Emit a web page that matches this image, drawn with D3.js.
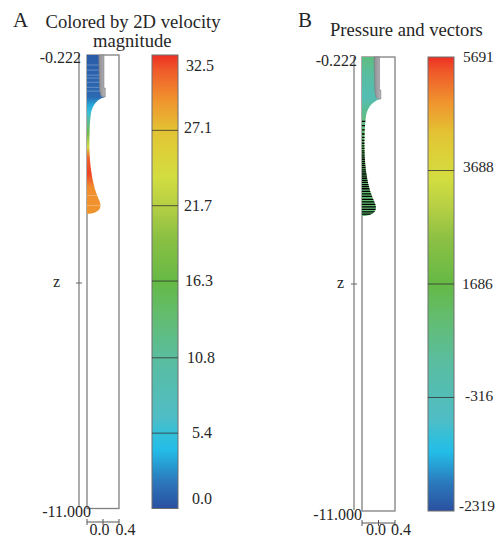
<!DOCTYPE html>
<html>
<head>
<meta charset="utf-8">
<script src="https://cdnjs.cloudflare.com/ajax/libs/d3/7.8.5/d3.min.js"></script>
<style>
body { margin: 0; background: #fff; }
svg { display: block; }
text { font-family: "Liberation Serif", serif; fill: #262626; }
</style>
</head>
<body>
<svg width="496" height="538"></svg>
<script>
// colour bar stops: fraction from bottom, colour
var stopFrac = [0, 0.06, 0.13, 0.167, 0.2, 0.333, 0.42, 0.5, 0.6, 0.667, 0.73, 0.78, 0.834, 0.9, 0.967, 1];
var stopCol = ["#2a50a0", "#2b78bc", "#23bde8", "#35bfd8", "#4fbdc6", "#5abd9e", "#62bd72", "#65b945", "#8cc043", "#b5cf44", "#d2dd40", "#dcd23a", "#e3c233", "#f0942e", "#ef5a2a", "#ee2f24"];

// jet outline (z, r)
var profZ = [-1.22, -1.27, -1.365, -1.53, -1.77, -2.01, -2.36, -2.72, -3.01, -3.2, -3.44, -3.63, -3.77, -3.89, -3.97, -4.0];
var profR = [0.05, -0.075, -0.19, -0.28, -0.32, -0.335, -0.34, -0.325, -0.29, -0.255, -0.19, -0.115, -0.065, -0.09, -0.215, -0.4];

// needle outline (z, r)
var needleZ = [-0.222, -0.222, -1.008, -1.008, -1.22, -1.2, -1.056];
var needleR = [-0.1075, 0.025, 0.025, 0.0575, 0.0575, -0.05, -0.0875];

// velocity along the jet
var velZ = [-0.222, -1.22, -1.41, -1.58, -1.77, -2.08, -2.41, -2.65, -3.03, -3.37, -3.98];
var velV = [0.6, 1.2, 3.5, 5.5, 10, 17, 24, 31, 32, 29.5, 29.2];
var streakZ = [-0.46, -0.58, -0.70, -0.77, -0.87, -0.99, -1.08, -3.56, -3.8];

// pressure along the jet, and vector rows
var presZ = [-0.222, -0.7, -1.2, -1.6, -2.2, -3.98];
var presV = [800, 200, -200, 700, 1200, 1000];
var vecZ = [-1.75, -1.85, -1.95, -2.05, -2.13, -2.2, -2.27, -2.33, -2.39, -2.45, -2.5, -2.55, -2.6, -2.65, -2.7, -2.75, -2.8, -2.85, -2.9, -2.95, -3.0, -3.05, -3.1, -3.15, -3.2, -3.25, -3.3, -3.35, -3.41, -3.47, -3.53, -3.6, -3.66, -3.72, -3.78, -3.84, -3.9, -3.95];

var zDomain = [-0.222, -11];
var rDomain = [-0.4, 0.4];
var barA = [32.5, 27.1, 21.7, 16.3, 10.8, 5.4, 0.0];
var barB = [5691, 3688, 1686, -316, -2319];

var titles = ["A", "Colored by 2D velocity", "magnitude", "B", "Pressure and vectors"];

var svg = d3.select("svg");
var defs = svg.append("defs");

var colorAt = d3.scaleLinear().domain(stopFrac).range(stopCol).interpolate(d3.interpolateRgb);

function gradient(id, y0, y1, offs, cols) {
    var g = defs.append("linearGradient").attr("id", id)
        .attr("gradientUnits", "userSpaceOnUse")
        .attr("x1", 0).attr("x2", 0).attr("y1", y0).attr("y2", y1);
    g.selectAll("stop").data(offs).join("stop")
        .attr("offset", d => d)
        .attr("stop-color", (d, i) => cols[i]);
}

function panel(o) {
    var g = svg.append("g");
    var x = d3.scaleLinear().domain(rDomain).range([o.left, o.right]);
    var y = d3.scaleLinear().domain(zDomain).range([o.top, o.bottom]);
    var col = d3.scaleLinear().domain(o.dom).range([o.bottom, o.top]);
    var frac = v => (o.bottom - col(v)) / (o.bottom - o.top);

    // box goes under the jet
    g.append("rect").attr("x", o.left).attr("y", o.top).attr("width", o.right - o.left).attr("height", o.bottom - o.top)
        .attr("fill", "none").attr("stroke", "#808080").attr("stroke-width", 1.3);

    // jet fill, its top edge stops behind the needle
    var curve = profZ.map((z, i) => [x(profR[i]), y(z)]);
    var outline = "M" + x(rDomain[0]) + "," + y(zDomain[0]) + "L" + x(needleR[5]) + "," + y(zDomain[0])
        + "L" + x(needleR[5]) + "," + y(needleZ[5])
        + d3.line().curve(d3.curveCatmullRom)(curve).replace("M", "L") + "Z";

    var y0 = y(o.valZ[0]), y1 = y(o.valZ[o.valZ.length - 1]);
    gradient(o.id + "jet", y0, y1, o.valZ.map(z => (y(z) - y0) / (y1 - y0)), o.valV.map(v => colorAt(frac(v))));
    defs.append("clipPath").attr("id", o.id + "clip").append("path").attr("d", outline);
    g.append("path").attr("d", outline).attr("fill", "url(#" + o.id + "jet)");

    // streaks or vectors inside the jet
    g.append("g").attr("clip-path", "url(#" + o.id + "clip)")
        .selectAll("line").data(o.rowZ).join("line")
        .attr("x1", x(rDomain[0])).attr("x2", x(rDomain[1]))
        .attr("y1", d => y(d)).attr("y2", d => y(d))
        .attr("stroke", o.rowCol).attr("stroke-width", o.rowW).attr("stroke-opacity", o.rowOp);

    // needle
    var ng = defs.append("linearGradient").attr("id", o.id + "needle");
    ng.append("stop").attr("offset", 0).attr("stop-color", "#8d8d92");
    ng.append("stop").attr("offset", 1).attr("stop-color", "#b4b4b8");
    g.append("path")
        .attr("d", d3.line()(needleZ.map((z, i) => [x(needleR[i]), y(z)])) + "Z")
        .attr("fill", "url(#" + o.id + "needle)").attr("stroke", "#77777b").attr("stroke-width", 0.5);

    // z axis
    var ax = o.left - 8;
    g.append("line").attr("x1", ax).attr("x2", ax).attr("y1", o.top).attr("y2", o.bottom - 1)
        .attr("stroke", "#808080").attr("stroke-width", 1.3);
    g.append("line").attr("x1", ax - 3).attr("x2", ax + 3).attr("y1", o.midY).attr("y2", o.midY)
        .attr("stroke", "#666");
    g.append("text").attr("x", o.zX).attr("y", o.midY + 4).attr("font-size", 16).text("z");
    g.append("text").attr("x", o.topX).attr("y", o.topY).attr("text-anchor", "end").attr("font-size", 16).text("-0.222");
    g.append("text").attr("x", o.botX).attr("y", o.botY).attr("text-anchor", "end").attr("font-size", 16).text("-11.000");

    // r axis
    var rAxis = d3.axisBottom(x).tickValues([-0.4, 0, 0.4]).tickSize(3).tickFormat("").offset(0);
    var ra = g.append("g").attr("transform", "translate(0," + o.rY + ")").call(rAxis);
    ra.select("path").attr("stroke", "#555").attr("d", "M" + x(-0.4) + ",0H" + x(0.4));
    ra.selectAll("line").attr("y1", -3).attr("y2", 3).attr("stroke", "#555");
    g.append("text").attr("x", o.r0X).attr("y", 534.5).attr("text-anchor", "middle").attr("font-size", 16).text("0.0");
    g.append("text").attr("x", o.r1X).attr("y", 534.5).attr("text-anchor", "middle").attr("font-size", 16).text("0.4");

    // colour bar
    gradient(o.id + "bar", o.bottom, o.top, stopFrac, stopCol);
    g.append("rect").attr("x", o.barX).attr("y", o.top).attr("width", 26).attr("height", o.bottom - o.top)
        .attr("fill", "url(#" + o.id + "bar)").attr("stroke", "#6e6e6e").attr("stroke-width", 1);
    g.append("g").selectAll("line").data(o.ticks.slice(1, -1)).join("line")
        .attr("x1", o.barX).attr("x2", o.barX + 26)
        .attr("y1", d => col(d)).attr("y2", d => col(d))
        .attr("stroke", "#333").attr("stroke-opacity", 0.8);
    g.append("g").selectAll("text").data(o.ticks).join("text")
        .attr("x", (d, i) => o.labelX[i])
        .attr("y", (d, i) => col(d) + o.labelDy[i])
        .attr("font-size", o.labelSize)
        .text(d => o.fmt(d));
}

panel({
    id: "a", left: 87, right: 119, top: 55, bottom: 508.5, midY: 283, rY: 522, barX: 152,
    zX: 53, topX: 81, topY: 63, botX: 91, botY: 517, r0X: 99.5, r1X: 125.5,
    dom: [0, 32.5], ticks: barA, fmt: d3.format(".1f"), labelSize: 16,
    labelX: [186, 184, 184, 185, 187, 192, 192], labelDy: [16, 3, 5, 5, 5, 5, -5],
    valZ: velZ, valV: velV, rowZ: streakZ, rowCol: "#fff", rowW: 0.7, rowOp: 0.4
});
panel({
    id: "b", left: 362, right: 395, top: 57, bottom: 511, midY: 284, rY: 523, barX: 428,
    zX: 337, topX: 357, topY: 66, botX: 362, botY: 520, r0X: 376, r1X: 401,
    dom: [-2319, 5691], ticks: barB, fmt: String, labelSize: 15.4,
    labelX: [463, 463, 462, 465, 459], labelDy: [5, 1, 5, 4, 0],
    valZ: presZ, valV: presV, rowZ: vecZ, rowCol: "#000", rowW: 1.3, rowOp: 1
});

// titles
svg.append("text").attr("x", 13).attr("y", 27).attr("font-size", 21).text(titles[0]);
svg.append("text").attr("x", 45.5).attr("y", 28).attr("font-size", 18.6).text(titles[1]);
svg.append("text").attr("x", 93).attr("y", 47).attr("font-size", 18.6).text(titles[2]);
svg.append("text").attr("x", 298).attr("y", 27).attr("font-size", 21).text(titles[3]);
svg.append("text").attr("x", 330).attr("y", 36).attr("font-size", 18.6).text(titles[4]);
</script>
</body>
</html>
